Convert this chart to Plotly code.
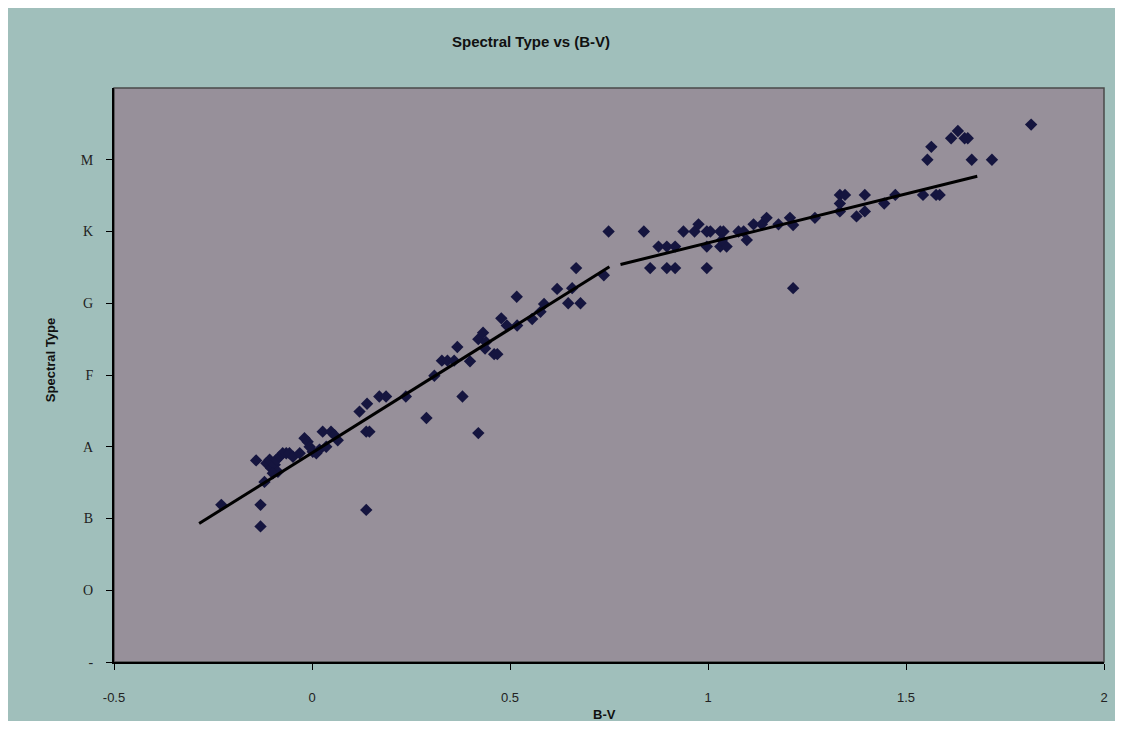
import plotly.graph_objects as go

# B-V colour index of each star
bv = [-0.229, -0.130, -0.130, -0.141, -0.115, -0.107, -0.103, -0.094, -0.090, -0.086,
      -0.099, -0.082, -0.074, -0.065, -0.057, -0.048, -0.120, -0.031, -0.019, -0.011,
      -0.006, 0.002, 0.011, 0.019, 0.027, 0.048, 0.057, 0.065, 0.036, 0.120,
      0.137, 0.145, 0.137, 0.139, 0.170, 0.187, 0.237, 0.289, 0.309, 0.328,
      0.342, 0.359, 0.367, 0.380, 0.399, 0.420, 0.420, 0.432, 0.439, 0.437,
      0.460, 0.468, 0.478, 0.492, 0.517, 0.518, 0.556, 0.577, 0.586, 0.619,
      0.647, 0.678, 0.657, 0.667, 0.737, 0.749, 0.838, 0.854, 0.875, 0.896,
      0.917, 0.896, 0.917, 0.938, 0.966, 0.976, 0.997, 1.006, 0.997, 0.997,
      1.031, 1.039, 1.031, 1.047, 1.035, 1.077, 1.090, 1.098, 1.115, 1.136,
      1.148, 1.178, 1.207, 1.215, 1.215, 1.270, 1.333, 1.346, 1.333, 1.333,
      1.375, 1.396, 1.396, 1.445, 1.473, 1.543, 1.576, 1.585, 1.554, 1.564,
      1.614, 1.631, 1.648, 1.656, 1.666, 1.717, 1.816]

# Spectral type as a number (O=1, B=2, A=3, F=4, G=5, K=6, M=7)
sp_type = [2.19, 2.19, 1.89, 2.81, 2.77, 2.82, 2.70, 2.75, 2.82, 2.65,
           2.63, 2.86, 2.91, 2.91, 2.91, 2.86, 2.51, 2.91, 3.12, 3.07,
           3.00, 2.93, 2.91, 2.96, 3.21, 3.21, 3.16, 3.09, 3.00, 3.49,
           3.21, 3.21, 2.12, 3.60, 3.70, 3.70, 3.70, 3.40, 3.99, 4.20,
           4.20, 4.20, 4.39, 3.70, 4.19, 3.19, 4.50, 4.59, 4.46, 4.37,
           4.29, 4.29, 4.79, 4.69, 5.09, 4.69, 4.78, 4.88, 4.99, 5.20,
           5.00, 5.00, 5.21, 5.49, 5.39, 6.00, 6.00, 5.49, 5.79, 5.79,
           5.79, 5.49, 5.49, 6.00, 6.00, 6.10, 6.00, 6.00, 5.79, 5.49,
           6.00, 6.00, 5.79, 5.79, 5.88, 6.00, 6.00, 5.88, 6.10, 6.10,
           6.19, 6.10, 6.19, 6.09, 5.21, 6.19, 6.51, 6.51, 6.39, 6.28,
           6.21, 6.51, 6.28, 6.39, 6.51, 6.51, 6.51, 6.51, 7.00, 7.18,
           7.30, 7.40, 7.30, 7.30, 7.00, 7.00, 7.49]

# Two fitted trend segments
fit1_x = [-0.285, 0.751]
fit1_y = [1.93, 5.51]
fit2_x = [0.779, 1.680]
fit2_y = [5.54, 6.77]

x_ticks = [-0.5, 0, 0.5, 1, 1.5, 2]
x_tick_text = ["-0.5", "0", "0.5", "1", "1.5", "2"]
y_ticks = [0, 1, 2, 3, 4, 5, 6, 7]
y_tick_text = ["-", "O", "B", "A", "F", "G", "K", "M"]

TEAL = "#a0bfbb"
GRAY = "#97909a"
NARROW = "Liberation Sans Narrow, Arial Narrow, Liberation Sans, Arial, sans-serif"
SERIF = "Liberation Serif, Times New Roman, serif"

fig = go.Figure()
fig.add_trace(go.Scatter(x=bv, y=sp_type, mode="markers",
                         marker=dict(symbol="diamond", size=9.5, color="#15153f",
                                     line=dict(width=0)),
                         showlegend=False, hoverinfo="x+y"))
fig.add_trace(go.Scatter(x=fit1_x, y=fit1_y, mode="lines",
                         line=dict(color="black", width=3), showlegend=False))
fig.add_trace(go.Scatter(x=fit2_x, y=fit2_y, mode="lines",
                         line=dict(color="black", width=3), showlegend=False))

# figure sits at (8, 8) in the page (body margin)
W, H = 1112, 713
L, R, T, B = 106, 14, 80, 59
pw, ph = W - L - R, H - T - B
OFF = 8

def px_x(p):
    return (p - OFF - L) / pw

def px_y(p):
    return (H - B - (p - OFF)) / ph

fig.update_layout(
    width=W, height=H,
    margin=dict(l=L, r=R, t=T, b=B, pad=0),
    paper_bgcolor=TEAL,
    plot_bgcolor=GRAY,
    shapes=[
        dict(type="rect", xref="paper", yref="paper", layer="below",
             x0=0, x1=1, y0=0, y1=1,
             fillcolor=GRAY, line=dict(color="#4a4a4a", width=1.5)),
    ],
    xaxis=dict(range=[-0.5, 2], tickvals=x_ticks, ticktext=x_tick_text,
               showgrid=False, zeroline=False, showline=True,
               linecolor="black", linewidth=2, ticks="outside", ticklen=6,
               tickwidth=1, tickcolor="black",
               tickfont=dict(family=NARROW, size=13, color="#222222"),
               ticklabelstandoff=16, fixedrange=True),
    yaxis=dict(range=[0, 8], tickvals=y_ticks, ticktext=y_tick_text,
               showgrid=False, zeroline=False, showline=True,
               linecolor="black", linewidth=2, ticks="outside", ticklen=6,
               tickwidth=1, tickcolor="black",
               tickfont=dict(family=SERIF, size=14, color="#222222"),
               ticklabelstandoff=10, fixedrange=True),
    annotations=[
        dict(text="<b>Spectral Type vs (B-V)</b>", xref="paper", yref="paper",
             x=px_x(532), y=px_y(42), xanchor="center", yanchor="middle",
             showarrow=False,
             font=dict(family=NARROW, size=15, color="#111111")),
        dict(text="<b>B-V</b>", xref="paper", yref="paper",
             x=px_x(605), y=px_y(714), xanchor="center", yanchor="middle",
             showarrow=False,
             font=dict(family=NARROW, size=13, color="#111111")),
        dict(text="<b>Spectral Type</b>", xref="paper", yref="paper",
             x=px_x(50), y=px_y(360), xanchor="center", yanchor="middle",
             showarrow=False, textangle=-90,
             font=dict(family=NARROW, size=13, color="#111111")),
    ],
)

fig.write_html("out.html")
